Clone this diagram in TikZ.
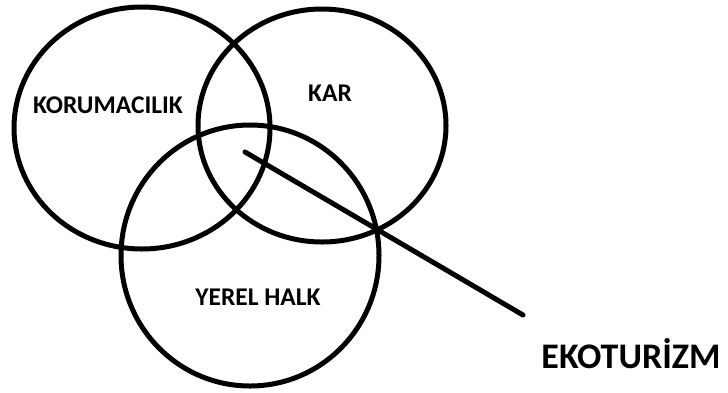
\documentclass[tikz,border=0pt]{standalone}
\usepackage{fontspec}
\setmainfont{Carlito}
\tikzset{
  ring/.style={draw=black, line width=5pt},
  lbl/.style={font=\bfseries\fontsize{25.5}{28}\selectfont, text=black, inner sep=0pt},
  biglbl/.style={font=\bfseries\fontsize{36}{40}\selectfont, text=black, inner sep=0pt},
  pointer/.style={draw=black, line width=5pt, line cap=round}
}
\begin{document}
\begin{tikzpicture}[x=1pt,y=-1pt]
\useasboundingbox (0,0) rectangle (728,392);
\draw[ring] (142,128) ellipse [x radius=128, y radius=121];
\draw[ring] (322,125.5) ellipse [x radius=124, y radius=116.5];
\draw[ring] (250,255.5) ellipse [x radius=129, y radius=130.5];
\node[lbl] (kor) at (108,105) {KORUMACILIK};
\node[lbl] (kar) at (330,93.5) {KAR};
\node[lbl] (yer) at (258,297) {YEREL HALK};
\node[biglbl] (eko) at (631,354) {EKOTURİZM};
\coordinate (ps) at (245,152);
\coordinate (pe) at (523,315);
\draw[pointer] (ps) -- (pe);
\end{tikzpicture}
\end{document}
